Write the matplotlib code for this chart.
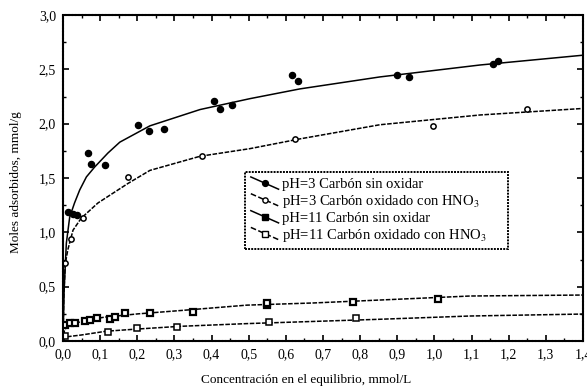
import numpy as np
import matplotlib
matplotlib.use("Agg")
import matplotlib.pyplot as plt
from matplotlib.lines import Line2D
from matplotlib.legend_handler import HandlerLine2D
from matplotlib.ticker import MultipleLocator, FuncFormatter

plt.rcParams["font.family"] = ["Liberation Serif", "DejaVu Serif"]
plt.rcParams["mathtext.fontset"] = "stix"

# --- datos ---
# pH=3 carbon sin oxidar (puntos)
ph3_sin_x = [0.014, 0.028, 0.037, 0.066, 0.075, 0.113, 0.201, 0.232, 0.273,
             0.406, 0.422, 0.454, 0.617, 0.632, 0.898, 0.932, 1.159, 1.172]
ph3_sin_y = [1.19, 1.17, 1.16, 1.73, 1.63, 1.62, 1.99, 1.93, 1.95,
             2.21, 2.135, 2.17, 2.45, 2.39, 2.45, 2.43, 2.545, 2.577]
# pH=3 carbon oxidado con HNO3 (puntos)
ph3_oxi_x = [0.006, 0.021, 0.055, 0.174, 0.373, 0.625, 0.995, 1.25]
ph3_oxi_y = [0.72, 0.94, 1.13, 1.51, 1.70, 1.86, 1.98, 2.135]
# pH=11 carbon sin oxidar (puntos)
ph11_sin_x = [0.005, 0.019, 0.032, 0.059, 0.073, 0.091, 0.127, 0.14, 0.167,
              0.234, 0.351, 0.548, 0.548, 0.78, 1.01]
ph11_sin_y = [0.147, 0.163, 0.17, 0.187, 0.19, 0.208, 0.20, 0.218, 0.26,
              0.26, 0.27, 0.33, 0.35, 0.36, 0.39]
# pH=11 carbon oxidado con HNO3 (puntos)
ph11_oxi_x = [0.005, 0.122, 0.198, 0.306, 0.555, 0.79]
ph11_oxi_y = [0.05, 0.087, 0.117, 0.13, 0.178, 0.215]

# curvas de ajuste (leidas)
fit1_x = [0, 0.003, 0.009, 0.018, 0.031, 0.045, 0.063, 0.085, 0.121, 0.153,
          0.234, 0.369, 0.503, 0.638, 0.853, 1.123, 1.40]
fit1_y = [0, 0.47, 0.90, 1.14, 1.27, 1.39, 1.51, 1.60, 1.73, 1.83,
          1.98, 2.13, 2.23, 2.32, 2.43, 2.54, 2.63]
fit2_x = [0, 0.002, 0.006, 0.013, 0.027, 0.049, 0.094, 0.139, 0.175, 0.234,
          0.369, 0.503, 0.638, 0.853, 1.123, 1.40]
fit2_y = [0, 0.40, 0.71, 0.84, 1.02, 1.13, 1.27, 1.37, 1.45, 1.57,
          1.70, 1.77, 1.86, 1.99, 2.08, 2.14]
fit3_x = [0, 0.004, 0.013, 0.059, 0.113, 0.203, 0.315, 0.495, 0.674, 0.853, 1.096, 1.40]
fit3_y = [0, 0.10, 0.14, 0.19, 0.22, 0.25, 0.28, 0.33, 0.35, 0.377, 0.414, 0.423]
fit4_x = [0, 0.005, 0.013, 0.049, 0.116, 0.20, 0.315, 0.495, 0.674, 0.853, 1.096, 1.40]
fit4_y = [0, 0.03, 0.04, 0.055, 0.09, 0.11, 0.135, 0.16, 0.18, 0.20, 0.23, 0.248]

labels = ["pH=3 Carbón sin oxidar",
          "pH=3 Carbón oxidado con HNO$_3$",
          "pH=11 Carbón sin oxidar",
          "pH=11 Carbón oxidado con HNO$_3$"]


class DiagHandler(HandlerLine2D):
    # linea diagonal en la leyenda, como en el original
    def create_artists(self, legend, orig, xdescent, ydescent, width, height, fontsize, trans):
        x0, x1 = -xdescent, -xdescent + width
        y0, y1 = -ydescent + height * 1.1, -ydescent - height * 0.1
        ln = Line2D([x0, x1], [y0, y1], color="black", lw=orig.get_linewidth(),
                    linestyle=orig.get_linestyle(), transform=trans)
        mk = Line2D([(x0 + x1) / 2], [(y0 + y1) / 2], marker=orig.get_marker(),
                    markersize=orig.get_markersize(), markerfacecolor=orig.get_markerfacecolor(),
                    markeredgecolor="black", linestyle="none", transform=trans)
        return [ln, mk]


fig = plt.figure(figsize=(5.87, 3.88), dpi=100)
ax = fig.add_axes([63 / 587, 47 / 388, 520 / 587, 326 / 388])

dash = (0, (3, 1))
ax.plot(fit1_x, fit1_y, color="black", lw=1.1)
ax.plot(fit2_x, fit2_y, color="black", lw=1.1, linestyle=dash)
ax.plot(fit3_x, fit3_y, color="black", lw=1.1, linestyle=dash)
ax.plot(fit4_x, fit4_y, color="black", lw=1.1, linestyle=dash)

ax.plot(ph3_sin_x, ph3_sin_y, "o", color="black", ms=4.4, ls="none")
ax.plot(ph3_oxi_x, ph3_oxi_y, "o", mfc="white", mec="black", mew=1.1, ms=3.8, ls="none")
ax.plot(ph11_sin_x, ph11_sin_y, "s", mfc="white", mec="black", mew=1.6, ms=3.8, ls="none")
ax.plot(ph11_oxi_x, ph11_oxi_y, "s", mfc="white", mec="black", mew=1.1, ms=3.8, ls="none")

handles = [
    Line2D([], [], color="black", lw=1.1, marker="o", ms=4.2, mfc="black"),
    Line2D([], [], color="black", lw=1.1, linestyle=(0, (2, 1)), marker="o", ms=3.8, mfc="white"),
    Line2D([], [], color="black", lw=1.1, marker="s", ms=3.8, mfc="black"),
    Line2D([], [], color="black", lw=1.1, linestyle=(0, (2, 1)), marker="s", ms=3.8, mfc="white"),
]
leg = ax.legend(handles, labels, loc="upper left", bbox_to_anchor=(0.35, 0.3, 0.506, 0.218),
                mode="expand", fontsize=10.5, frameon=True, fancybox=False, handlelength=1.9,
                handletextpad=0.25, labelspacing=0.12, borderpad=0.4, borderaxespad=0,
                handler_map={h: DiagHandler() for h in handles})
fr = leg.get_frame()
fr.set_edgecolor("black")
fr.set_linewidth(1.4)
fr.set_linestyle((0, (1, 0.6)))
fr.set_alpha(1)

ax.set_xlim(0, 1.4)
ax.set_ylim(0, 3.0)
ax.xaxis.set_major_locator(MultipleLocator(0.1))
ax.xaxis.set_minor_locator(MultipleLocator(0.05))
ax.yaxis.set_major_locator(MultipleLocator(0.5))
ax.yaxis.set_minor_locator(MultipleLocator(0.25))
coma = FuncFormatter(lambda v, p: f"{v:.1f}".replace(".", ","))
ax.xaxis.set_major_formatter(coma)
ax.yaxis.set_major_formatter(coma)
ax.tick_params(which="both", direction="in", top=True, right=True, labelsize=10, colors="black")
ax.tick_params(which="major", length=4, width=1.2, pad=5)
ax.tick_params(which="minor", length=2.5, width=1.0)
for s in ax.spines.values():
    s.set_linewidth(1.5)
    s.set_linestyle((0, (1, 0.6)))

ax.set_xlabel("Concentración en el equilibrio, mmol/L", fontsize=9.5)
ax.set_ylabel("Moles adsorbidos, mmol/g", fontsize=9.5)
ax.xaxis.set_label_coords(0.467, -0.10)
ax.yaxis.set_label_coords(-0.078, 0.488)

fig.savefig("out.png", dpi=100)
